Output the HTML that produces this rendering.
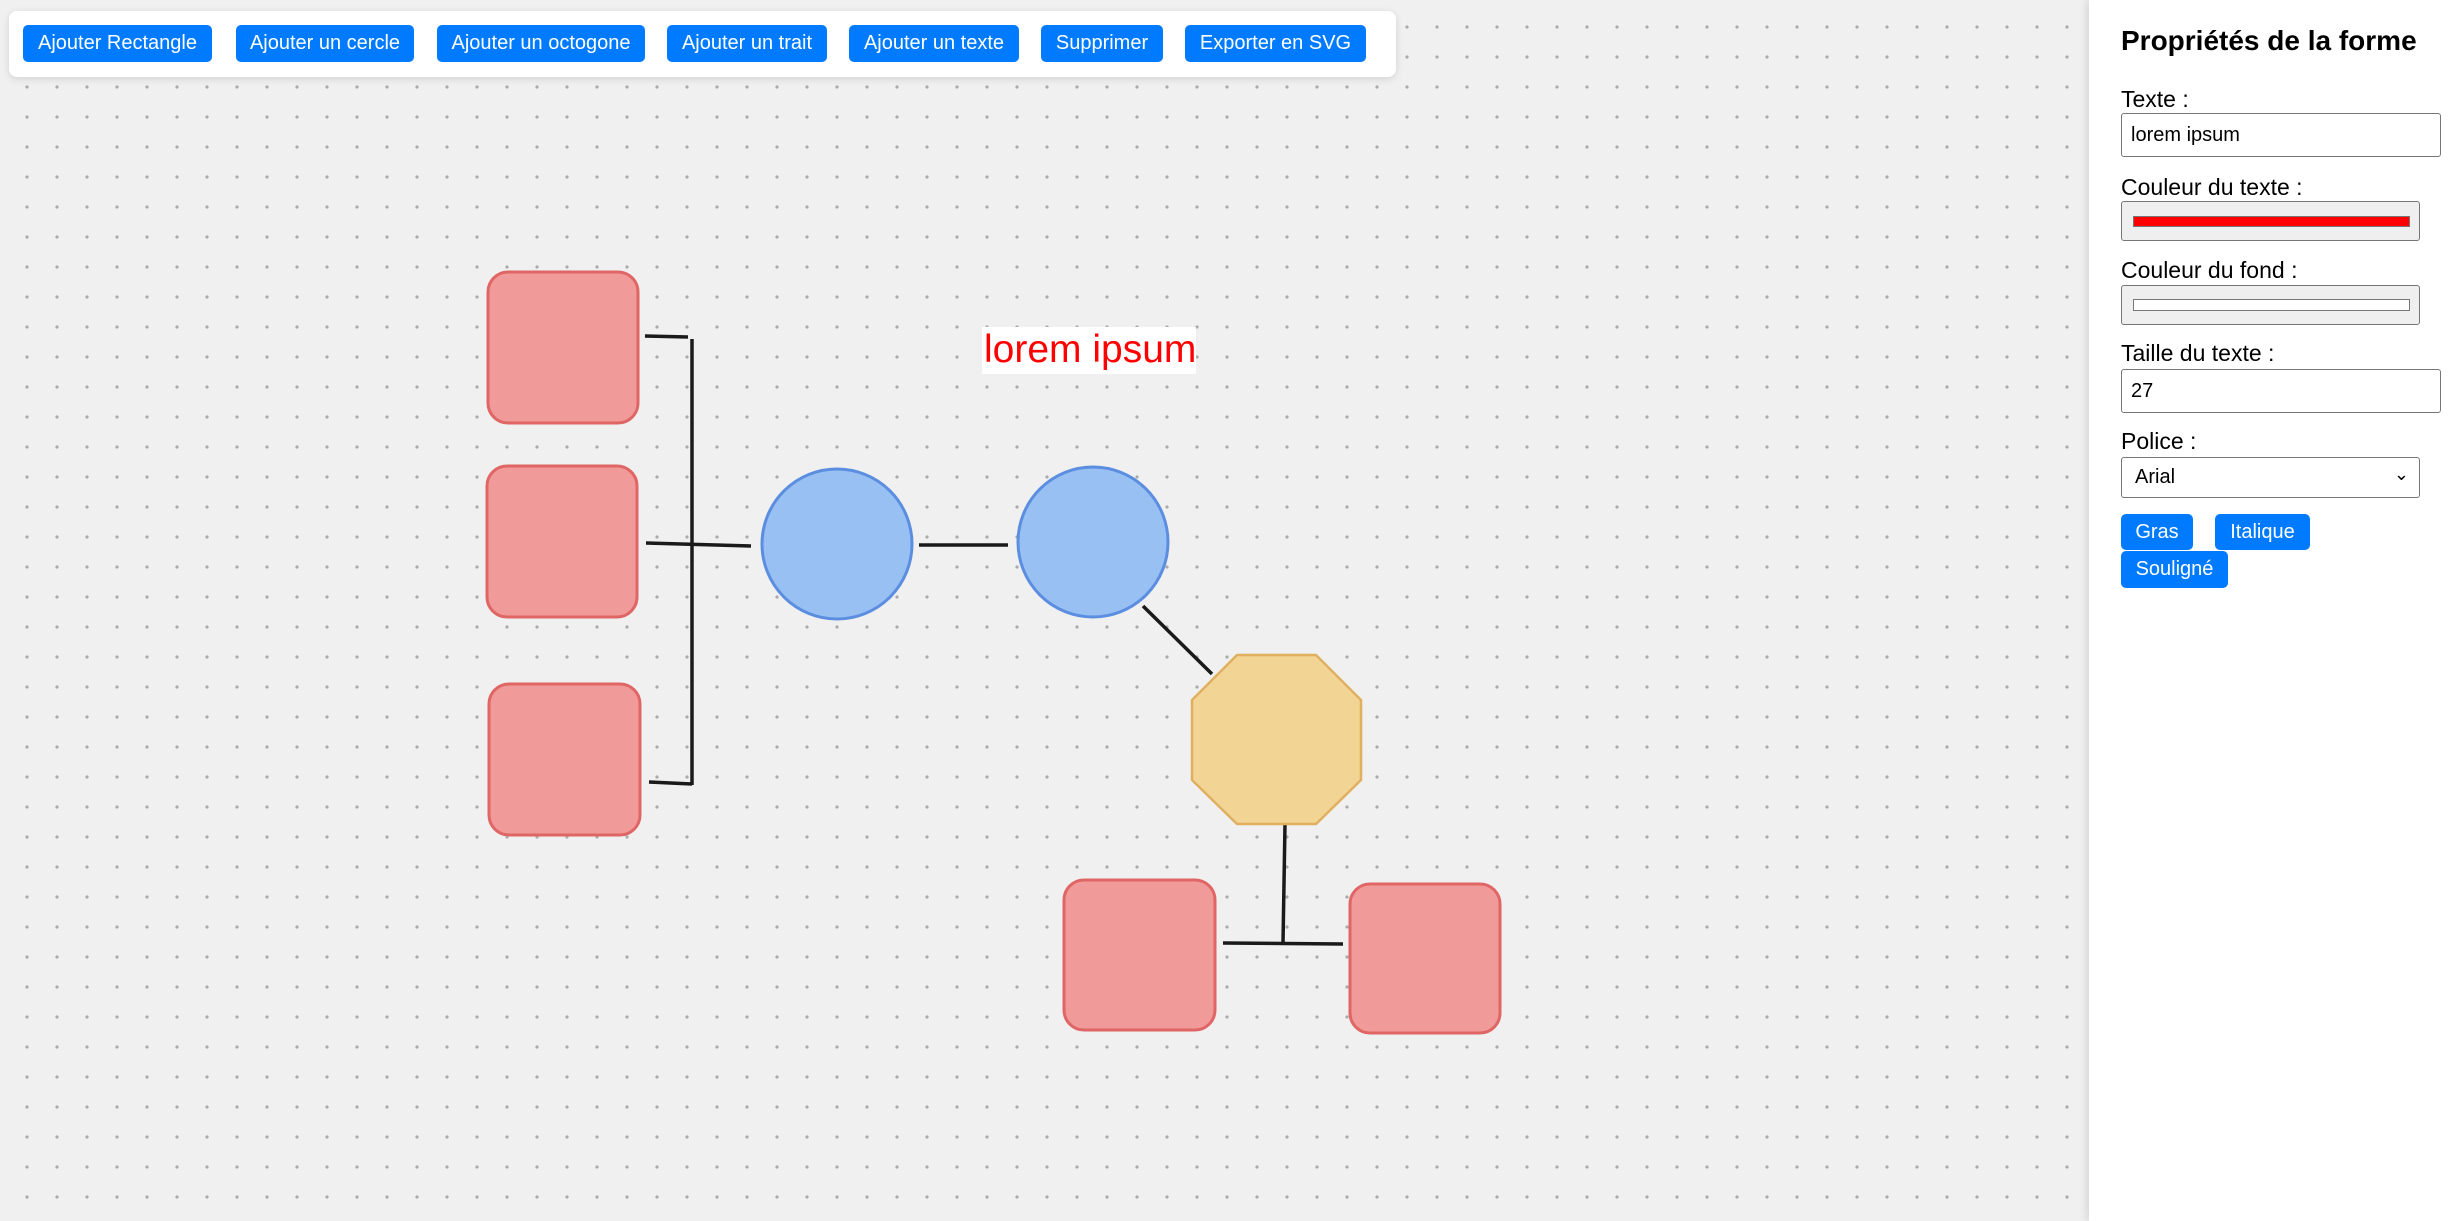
<!DOCTYPE html>
<html><head><meta charset="utf-8"><style>
*{box-sizing:border-box;margin:0;padding:0}
body{width:2448px;height:1221px;overflow:hidden;background:#f0f0f0;font-family:"Liberation Sans",Arial,sans-serif;position:relative}
.tb{position:absolute;left:9px;top:11px;width:1387px;height:66px;background:#fff;border-radius:8px;box-shadow:0 2px 8px rgba(0,0,0,.12)}
.b{position:absolute;background:#007bff;color:#fff;font-size:20px;border-radius:5px;display:flex;align-items:center;justify-content:center;white-space:nowrap}
.side{position:absolute;left:2089px;top:0;width:359px;height:1221px;background:#fff;box-shadow:-3px 0 8px rgba(0,0,0,.1)}
.l{position:absolute;left:2121px;font-size:23px;color:#000;line-height:1}
.in{position:absolute;left:2121px;border:1.5px solid #767676;border-radius:3px;background:#fff;font-size:20px;padding-left:9px;display:flex;align-items:center}
.ci{position:absolute;left:2121px;width:299px;height:40px;border:1.5px solid #767676;border-radius:3px;background:#efefef}
</style></head><body>
<svg width="2448" height="1221" style="position:absolute;left:0;top:0">
<defs><pattern id="d" x="0" y="0" width="30" height="30" patternUnits="userSpaceOnUse"><circle cx="27" cy="27" r="1.6" fill="#aaa"/></pattern></defs>
<rect width="2448" height="1221" fill="url(#d)"/>
<g stroke="#1a1a1a" stroke-width="3.5" fill="none">
<line x1="645" y1="336" x2="688" y2="337"/>
<line x1="692" y1="339" x2="692" y2="785"/>
<line x1="646" y1="543" x2="751" y2="546"/>
<line x1="649" y1="782" x2="692" y2="784"/>
<line x1="919" y1="545" x2="1008" y2="545"/>
<line x1="1143" y1="606" x2="1212" y2="674"/>
<line x1="1285" y1="824" x2="1283" y2="943"/>
<line x1="1223" y1="943" x2="1343" y2="944"/>
</g>
<g fill="#f19a9a" stroke="#e06666" stroke-width="3">
<rect x="488" y="272" width="150" height="151" rx="20"/>
<rect x="487" y="466" width="150" height="151" rx="20"/>
<rect x="489" y="684" width="151" height="151" rx="20"/>
<rect x="1064" y="880" width="151" height="150" rx="20"/>
<rect x="1350" y="884" width="150" height="149" rx="20"/>
</g>
<g fill="#99c0f2" stroke="#5b8ee0" stroke-width="3">
<circle cx="837" cy="544" r="75"/>
<circle cx="1093" cy="542" r="75"/>
</g>
<polygon points="1237,655 1316,655 1361,700 1361,780 1316,824 1237,824 1192,780 1192,700" fill="#f2d595" stroke="#e0b060" stroke-width="2.5"/>
<rect x="982" y="327" width="214" height="47" fill="#fff"/>
<text x="984" y="362" font-family="Liberation Sans, Arial, sans-serif" font-size="39" fill="#ff0000">lorem ipsum</text>
</svg>
<div class="tb"></div>
<div class="b" style="left:23px;top:25px;width:189px;height:37px">Ajouter Rectangle</div>
<div class="b" style="left:236px;top:25px;width:178px;height:37px">Ajouter un cercle</div>
<div class="b" style="left:437px;top:25px;width:208px;height:37px">Ajouter un octogone</div>
<div class="b" style="left:667px;top:25px;width:160px;height:37px">Ajouter un trait</div>
<div class="b" style="left:849px;top:25px;width:170px;height:37px">Ajouter un texte</div>
<div class="b" style="left:1041px;top:25px;width:122px;height:37px">Supprimer</div>
<div class="b" style="left:1185px;top:25px;width:181px;height:37px">Exporter en SVG</div>
<div class="side"></div>
<div class="l" style="top:27px;font-size:28px;font-weight:bold">Propriétés de la forme</div>
<div class="l" style="top:88px">Texte :</div>
<div class="in" style="top:113px;width:320px;height:44px">lorem ipsum</div>
<div class="l" style="top:176px">Couleur du texte :</div>
<div class="ci" style="top:201px"><div style="position:absolute;left:11px;top:14px;width:277px;height:11px;background:#f00;border:1px solid #777"></div></div>
<div class="l" style="top:259px">Couleur du fond :</div>
<div class="ci" style="top:285px"><div style="position:absolute;left:11px;top:13px;width:277px;height:12px;background:#fff;border:1px solid #777"></div></div>
<div class="l" style="top:342px">Taille du texte :</div>
<div class="in" style="top:369px;width:320px;height:44px">27</div>
<div class="l" style="top:430px">Police :</div>
<div class="in" style="top:457px;width:299px;height:41px;padding-left:13px">Arial<span style="position:absolute;right:10px;top:6px;font-size:18px">&#8964;</span></div>
<div class="b" style="left:2121px;top:514px;width:72px;height:36px">Gras</div>
<div class="b" style="left:2215px;top:514px;width:95px;height:36px">Italique</div>
<div class="b" style="left:2121px;top:551px;width:107px;height:37px">Souligné</div>
</body></html>
